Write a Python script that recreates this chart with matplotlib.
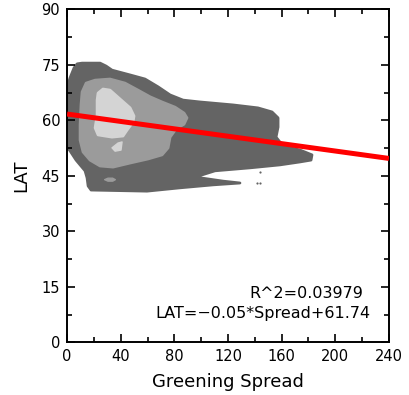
import matplotlib
matplotlib.use("Agg")
import matplotlib.pyplot as plt
from matplotlib.ticker import MultipleLocator

# Density contour outlines (Greening Spread, LAT)
outer_x = [0, 2.2, 5.2, 7.5, 11.2, 24.6, 29.1, 33.5, 47.0, 58.1, 67.8, 76.8, 86.5, 99.1,
           123.7, 142.3, 152.8, 157.3, 157.3, 155.8, 161.0, 173.7, 182.6, 181.9, 173.7,
           158.7, 136.4, 110.3, 95.4, 116.3, 128.9, 108.8, 84.2, 59.6, 17.9,
           15.7, 14.9, 13.4, 9.7, 6.7, 2.2, 0]
outer_y = [68.8, 71.5, 74.2, 75.3, 75.5, 75.5, 74.7, 73.6, 72.3, 71.2, 69.1, 66.9, 65.5, 65.0,
           64.2, 63.4, 62.3, 60.7, 58.2, 55.5, 53.1, 52.0, 50.7, 49.3, 48.8,
           48.0, 47.2, 46.4, 44.7, 43.6, 43.1, 42.6, 41.8, 40.9, 41.2,
           42.3, 44.5, 46.4, 48.0, 49.3, 51.8, 52.8]

mid_x = [11.2, 14.2, 20.9, 32.0, 43.2, 52.9, 61.9, 70.8, 80.5, 87.2, 89.4, 87.2, 81.2, 76.8,
         75.3, 70.8, 60.4, 47.0, 34.3, 24.6, 17.1, 11.9, 9.7, 9.7, 10.4]
mid_y = [67.7, 70.1, 70.9, 71.2, 70.1, 68.2, 66.4, 65.0, 63.6, 62.0, 60.7, 59.0, 57.7, 55.5,
         52.6, 50.7, 49.6, 48.5, 47.4, 47.7, 49.3, 51.5, 54.7, 58.8, 64.2]

mid_spot_x = [28.0, 30.5, 34.0, 36.0, 34.0, 30.5]
mid_spot_y = [44.0, 44.4, 44.4, 44.0, 43.6, 43.6]

inner_x = [23.1, 26.8, 32.0, 39.5, 47.0, 49.9, 49.2, 44.7, 41.7, 33.5, 23.1, 20.9, 22.4, 22.4]
inner_y = [67.4, 68.5, 68.2, 65.8, 63.4, 61.2, 59.6, 57.4, 55.8, 55.5, 56.1, 58.0, 61.5, 65.5]

inner_spot_x = [33.5, 38.0, 41.0, 40.2, 35.8]
inner_spot_y = [52.6, 53.9, 54.2, 52.0, 51.7]

speck_x = [143.8, 143.8, 141.8]
speck_y = [46.0, 43.1, 43.2]

# Linear fit
slope = -0.05
intercept = 61.74
r_squared = 0.03979
fit_x = [0, 240]

x_ticks = [0, 40, 80, 120, 160, 200, 240]
y_ticks = [0, 15, 30, 45, 60, 75, 90]

dark = "#646464"
mid = "#9b9b9b"
light = "#d4d4d4"

plt.rcParams["font.family"] = ["DejaVu Sans"]
fig = plt.figure(figsize=(4.09, 3.95), dpi=100)
ax = fig.add_axes([0.164, 0.133, 0.787, 0.843])


def region(xs, ys, color, z, lw=2.0):
    poly = ax.fill(xs, ys, color=color, ec=color, lw=lw, zorder=z)[0]
    poly.set_joinstyle("round")
    return poly


region(outer_x, outer_y, dark, 1)
region(mid_x, mid_y, mid, 2)
region(mid_spot_x, mid_spot_y, mid, 2, lw=1.0)
region(inner_x, inner_y, light, 3)
region(inner_spot_x, inner_spot_y, light, 3, lw=1.0)
ax.scatter(speck_x, speck_y, s=2.5, color=dark, zorder=3, lw=0)

fit_y = [slope * v + intercept for v in fit_x]
ax.plot(fit_x, fit_y, color="#ff0000", lw=3.6, solid_capstyle="butt", zorder=5)

ax.set_xlim(0, 240)
ax.set_ylim(0, 90)
ax.set_xticks(x_ticks)
ax.set_yticks(y_ticks)
ax.xaxis.set_minor_locator(MultipleLocator(20))
ax.yaxis.set_minor_locator(MultipleLocator(7.5))
ax.tick_params(which="both", direction="in", top=True, right=True, width=1.2,
               labelsize=10.5, colors="black")
ax.tick_params(which="major", length=6)
ax.tick_params(which="minor", length=3.5)
ax.tick_params(axis="x", pad=5)
ax.tick_params(axis="y", pad=5)
for s in ax.spines.values():
    s.set_linewidth(1.4)

ax.set_xlabel("Greening Spread", fontsize=13, labelpad=6)
ax.set_ylabel("LAT", fontsize=13, labelpad=8)

ax.text(221, 13.1, f"R^2={r_squared}", ha="right", va="center", fontsize=11.5)
ax.text(226, 7.7, f"LAT={slope:.2f}*Spread+{intercept}".replace("-", "\u2212"),
        ha="right", va="center", fontsize=11.5)

fig.savefig("out.png", dpi=100)
